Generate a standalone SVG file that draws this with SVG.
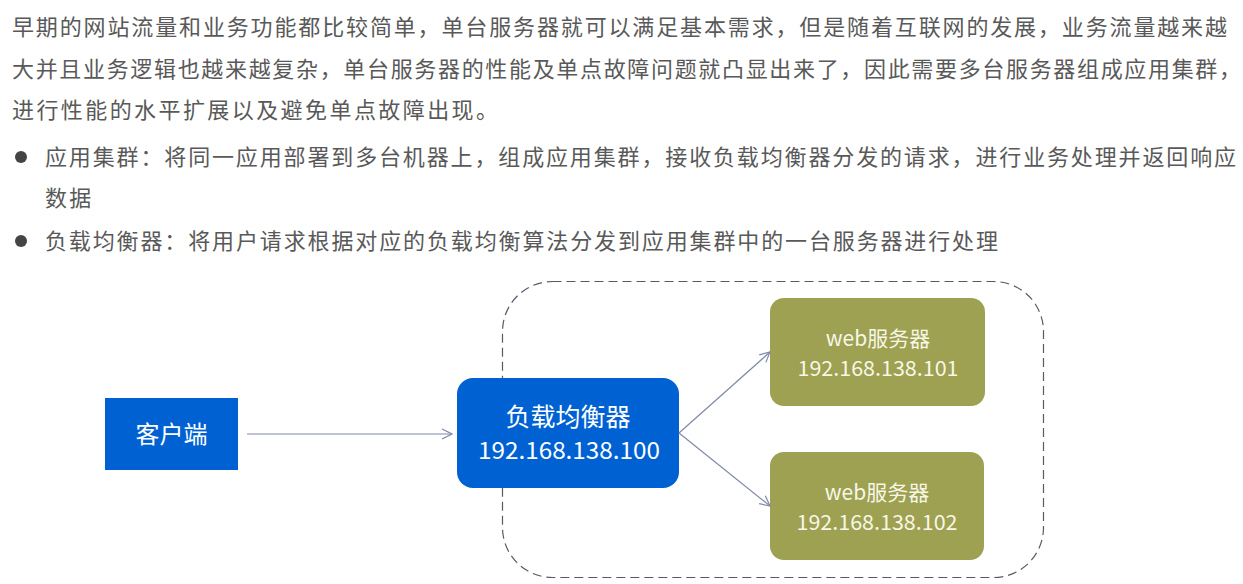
<svg xmlns="http://www.w3.org/2000/svg" width="1243" height="584" viewBox="0 0 1243 584">
<style>
.body{font-family:"Noto Sans CJK SC","Noto Sans",sans-serif;font-size:22px;fill:#595959;}
.w{font-family:"Noto Sans CJK SC","Noto Sans",sans-serif;fill:#ffffff;text-anchor:middle;}
.wo{font-family:"Noto Sans CJK SC","Noto Sans",sans-serif;fill:#f7f7e6;text-anchor:middle;}
.conn{stroke:#7f8aa8;stroke-width:1.2;fill:none;}
</style>
<defs>
<marker id="arr" viewBox="0 0 12 12" refX="11" refY="6" markerWidth="12" markerHeight="12" markerUnits="userSpaceOnUse" orient="auto">
<path d="M1,1 L11,6 L1,11" fill="none" stroke="#7f8aa8" stroke-width="1.2"/>
</marker>
</defs>
<rect width="1243" height="584" fill="#ffffff"/>
<g id="text">
<text class="body" x="12" y="35" textLength="1215" lengthAdjust="spacing">早期的网站流量和业务功能都比较简单，单台服务器就可以满足基本需求，但是随着互联网的发展，业务流量越来越</text>
<text class="body" x="12" y="77" textLength="1229" lengthAdjust="spacing">大并且业务逻辑也越来越复杂，单台服务器的性能及单点故障问题就凸显出来了，因此需要多台服务器组成应用集群，</text>
<text class="body" x="12" y="118" textLength="486" lengthAdjust="spacing">进行性能的水平扩展以及避免单点故障出现。</text>
<circle cx="21" cy="157" r="6" fill="#444444"/>
<text class="body" x="45" y="165" textLength="1191" lengthAdjust="spacing">应用集群：将同一应用部署到多台机器上，组成应用集群，接收负载均衡器分发的请求，进行业务处理并返回响应</text>
<text class="body" x="45" y="206" letter-spacing="2.3">数据</text>
<circle cx="21" cy="241" r="6" fill="#444444"/>
<text class="body" x="45" y="249" textLength="953" lengthAdjust="spacing">负载均衡器：将用户请求根据对应的负载均衡算法分发到应用集群中的一台服务器进行处理</text>
</g>
<g id="cluster">
<rect x="502.5" y="281.5" width="541" height="296" rx="50" ry="50" fill="none" stroke="#555a66" stroke-width="1.2" stroke-dasharray="9,5"/>
</g>
<g id="client">
<rect x="105" y="398" width="133" height="72" fill="#0062d2"/>
<text class="w" x="171.5" y="443" font-size="24">客户端</text>
</g>
<g id="lb">
<rect x="457" y="378" width="222" height="110" rx="16" ry="16" fill="#0062d2"/>
<text class="w" x="568" y="426" font-size="25">负载均衡器</text>
<text class="w" x="569" y="459" font-size="23" textLength="182" lengthAdjust="spacingAndGlyphs">192.168.138.100</text>
</g>
<g id="web1">
<rect x="770" y="298" width="215" height="108" rx="14" ry="14" fill="#9ea052"/>
<text class="wo" x="878" y="346" font-size="21">web服务器</text>
<text class="wo" x="878" y="376" font-size="21" textLength="161" lengthAdjust="spacingAndGlyphs">192.168.138.101</text>
</g>
<g id="web2">
<rect x="770" y="452" width="214" height="108" rx="14" ry="14" fill="#9ea052"/>
<text class="wo" x="877" y="500" font-size="21">web服务器</text>
<text class="wo" x="877" y="530" font-size="21" textLength="161" lengthAdjust="spacingAndGlyphs">192.168.138.102</text>
</g>
<g id="connectors">
<line class="conn" x1="247" y1="434" x2="452" y2="434" marker-end="url(#arr)"/>
<line class="conn" x1="679" y1="433" x2="770" y2="352" marker-end="url(#arr)"/>
<line class="conn" x1="679" y1="433" x2="770" y2="506" marker-end="url(#arr)"/>
</g>
</svg>
